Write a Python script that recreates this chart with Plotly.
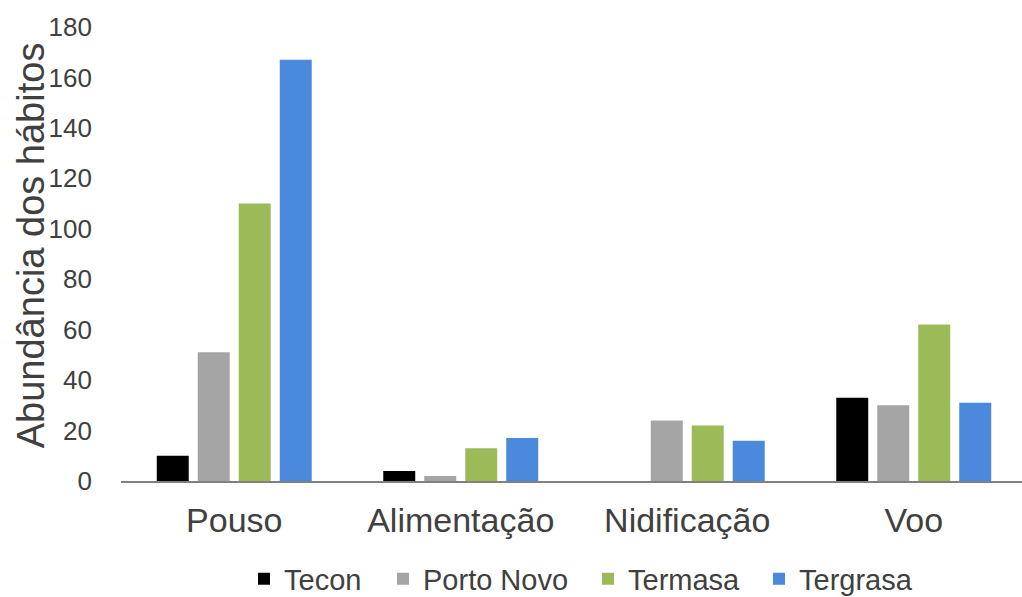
import plotly.graph_objects as go

categories = ["Pouso", "Alimentação", "Nidificação", "Voo"]
series_names = ["Tecon", "Porto Novo", "Termasa", "Tergrasa"]
tecon = [10, 4, 0, 33]
porto_novo = [51, 2, 24, 30]
termasa = [110, 13, 22, 62]
tergrasa = [167, 17, 16, 31]
y_ticks = [0, 20, 40, 60, 80, 100, 120, 140, 160, 180]

colors = ["#000000", "#A5A5A5", "#9BBB59", "#4A89DC"]
values = [tecon, porto_novo, termasa, tergrasa]

FONT = "Liberation Sans, Arial, sans-serif"
TXT = "#404040"

PLOT_L = 121
PLOT_W = 1022 - PLOT_L
legend_left_px = [258, 397, 602, 773]
legend_ids = ["legend", "legend2", "legend3", "legend4"]

fig = go.Figure()
for name, vals, col, lid in zip(series_names, values, colors, legend_ids):
    fig.add_trace(go.Bar(x=categories, y=vals, name=name, legend=lid,
                         marker=dict(color=col, line=dict(width=0))))

legend_layouts = {}
for lid, px in zip(legend_ids, legend_left_px):
    legend_layouts[lid] = dict(orientation="h", x=(px - 14 - PLOT_L) / PLOT_W, xanchor="left",
                               y=-0.2156, yanchor="middle",
                               font=dict(size=29, family=FONT, color=TXT),
                               bgcolor="rgba(0,0,0,0)", borderwidth=0)

fig.update_layout(
    width=1022, height=597,
    barmode="group", bargap=0.276, bargroupgap=0.22,
    plot_bgcolor="white", paper_bgcolor="white",
    margin=dict(l=PLOT_L, r=0, t=26.5, b=116, autoexpand=False),
    font=dict(family=FONT, color=TXT),
    showlegend=True,
    xaxis=dict(range=[-0.5, 3.478], showline=True, linecolor="#808080", linewidth=2,
               showgrid=False, zeroline=False, ticks="", tickfont=dict(size=34, family=FONT, color=TXT),
               ticklabelstandoff=8, fixedrange=True),
    yaxis=dict(range=[0, 180], tickvals=y_ticks, showline=False, showgrid=False, zeroline=False,
               ticks="", tickfont=dict(size=26, family=FONT, color=TXT), ticklabelstandoff=28,
               fixedrange=True),
    annotations=[dict(text="Abundância dos hábitos", textangle=-90, showarrow=False,
                      xref="paper", yref="paper", x=(31 - PLOT_L) / PLOT_W, y=(481 - 245) / 454.5,
                      xanchor="center", yanchor="middle",
                      font=dict(size=38, family=FONT, color=TXT))],
)
fig.update_layout(**legend_layouts)

fig.write_html("out.html")
